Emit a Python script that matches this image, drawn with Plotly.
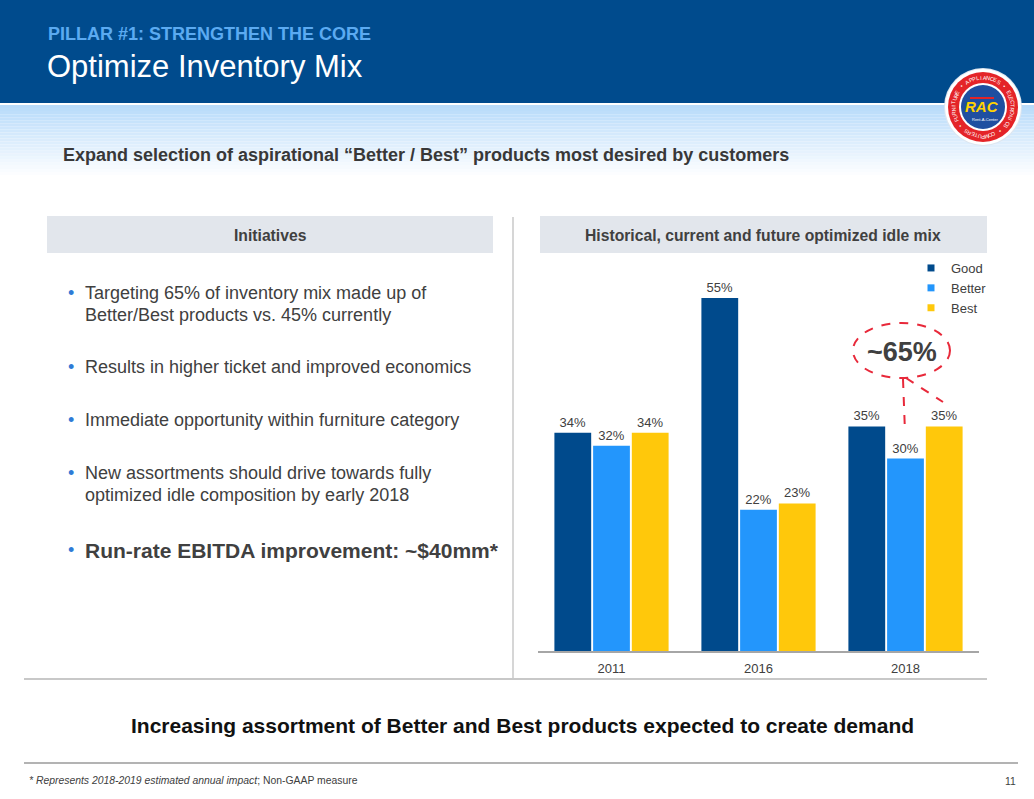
import math
import plotly.graph_objects as go

# ---------------- data ----------------
categories = ["2011", "2016", "2018"]
good = [34, 55, 35]
better = [32, 22, 30]
best = [34, 23, 35]
series_names = ["Good", "Better", "Best"]
series_colors = ["#004A8C", "#2396FC", "#FFC80B"]

W, H = 1034, 799
FONT = "Liberation Sans, Arial, Helvetica, sans-serif"
GREY_TXT = "#404040"


def px(x):
    return x / W


def py(y):
    return 1 - y / H


fig = go.Figure()

for name, vals, col in zip(series_names, [good, better, best], series_colors):
    fig.add_trace(go.Bar(
        x=categories, y=vals, name=name, marker=dict(color=col, line=dict(width=0)),
        texttemplate="%{y}%", textposition="outside", constraintext="none",
        textfont=dict(family=FONT, size=13, color=GREY_TXT),
        cliponaxis=False, showlegend=False, hoverinfo="skip",
    ))
# legend entries with small square symbols
for name, col in zip(series_names, series_colors):
    fig.add_trace(go.Scatter(
        x=[None], y=[None], mode="markers", name=name,
        marker=dict(symbol="square", size=7, color=col), showlegend=True,
    ))

shapes = []
annotations = []

# header band
shapes.append(dict(type="rect", xref="paper", yref="paper", x0=0, x1=1, y0=py(103), y1=1,
                   fillcolor="#004B8D", line=dict(width=0), layer="below"))
# gradient band under header
n = 24
top, bot = 105, 178
c0 = (184, 219, 250)
for i in range(n):
    t = i / (n - 1)
    c = tuple(int(round(c0[k] + (255 - c0[k]) * t)) for k in range(3))
    y0 = top + (bot - top) * i / n
    y1 = top + (bot - top) * (i + 1) / n
    shapes.append(dict(type="rect", xref="paper", yref="paper", x0=0, x1=1,
                       y0=py(y1), y1=py(y0), fillcolor="rgb(%d,%d,%d)" % c,
                       line=dict(width=0), layer="below"))

# logo
cx, cy = 983, 107
def circ(r, fill, lc=None, lw=0):
    return dict(type="circle", xref="paper", yref="paper",
                x0=px(cx - r), x1=px(cx + r), y0=py(cy + r), y1=py(cy - r),
                fillcolor=fill, line=dict(width=lw, color=lc or fill))
shapes.append(circ(39, "#DDE6F0"))
shapes.append(circ(38, "#FFFFFF"))
shapes.append(circ(35, "#E42428"))
shapes.append(circ(24, "#FFFFFF"))
shapes.append(circ(22, "#1F4FA0"))
shapes.append(dict(type="rect", xref="paper", yref="paper", x0=px(cx - 13), x1=px(cx + 11),
                   y0=py(cy - 8), y1=py(cy - 10), fillcolor="#E42428", line=dict(width=0)))
annotations.append(dict(x=px(cx - 1), y=py(cy), xref="paper", yref="paper", text="<b><i>RAC</i></b>",
                        showarrow=False, font=dict(family=FONT, size=15, color="#FFD200"),
                        xanchor="center", yanchor="middle"))
annotations.append(dict(x=px(cx + 2), y=py(cy + 12), xref="paper", yref="paper", text="Rent-A-Center",
                        showarrow=False, font=dict(family=FONT, size=4, color="#FFFFFF"),
                        xanchor="center", yanchor="middle"))
ring = "APPLIANCES \u2022 ELECTRONICS \u2022 COMPUTERS \u2022 FURNITURE \u2022 "
nring = len(ring)
off = -(len("APPLIANCES") - 1) / 2
for i, ch in enumerate(ring):
    if ch == " ":
        continue
    th = 2 * math.pi * (i + off) / nring
    r = 29.5
    x = cx + r * math.sin(th)
    y = cy - r * math.cos(th)
    annotations.append(dict(x=px(x), y=py(y), xref="paper", yref="paper", text=ch,
                            showarrow=False, textangle=math.degrees(th),
                            font=dict(family=FONT, size=5.5, color="#FFFFFF"),
                            xanchor="center", yanchor="middle"))

# panel header boxes
shapes.append(dict(type="rect", xref="paper", yref="paper", x0=px(47), x1=px(493),
                   y0=py(253), y1=py(216), fillcolor="#E2E6EC", line=dict(width=0), layer="below"))
shapes.append(dict(type="rect", xref="paper", yref="paper", x0=px(540), x1=px(987),
                   y0=py(253), y1=py(216), fillcolor="#E2E6EC", line=dict(width=0), layer="below"))
# divider lines
shapes.append(dict(type="line", xref="paper", yref="paper", x0=px(513), x1=px(513),
                   y0=py(217), y1=py(679), line=dict(color="#C8C8C8", width=1.5)))
shapes.append(dict(type="line", xref="paper", yref="paper", x0=px(24), x1=px(987),
                   y0=py(679), y1=py(679), line=dict(color="#C8C8C8", width=2)))
shapes.append(dict(type="line", xref="paper", yref="paper", x0=px(24), x1=px(1018),
                   y0=py(763), y1=py(763), line=dict(color="#9A9A9A", width=1.5)))
# ~65% callout
red = "#E8293A"
shapes.append(dict(type="circle", xref="paper", yref="paper", x0=px(853), x1=px(950),
                   y0=py(378), y1=py(323), line=dict(color=red, width=2, dash="dash")))
shapes.append(dict(type="line", xref="paper", yref="paper", x0=px(903), x1=px(905),
                   y0=py(379), y1=py(432), line=dict(color=red, width=2, dash="dash")))
shapes.append(dict(type="line", xref="paper", yref="paper", x0=px(906), x1=px(943),
                   y0=py(378), y1=py(402), line=dict(color=red, width=2, dash="dash")))


def txt(x, y, s, size, color=GREY_TXT, xanchor="left", bold=False, italic=False):
    if bold:
        s = "<b>" + s + "</b>"
    if italic:
        s = "<i>" + s + "</i>"
    annotations.append(dict(x=px(x), y=py(y), xref="paper", yref="paper", text=s, showarrow=False,
                            font=dict(family=FONT, size=size, color=color),
                            xanchor=xanchor, yanchor="middle", align="left"))


txt(46, 34, "PILLAR #1: STRENGTHEN THE CORE", 18, color="#5BAAF1", bold=True)
txt(45, 67, "Optimize Inventory Mix", 31, color="#FFFFFF")
txt(61, 155, "Expand selection of aspirational \u201cBetter / Best\u201d products most desired by customers",
    18, color="#383838", bold=True)
txt(270, 235, "Initiatives", 15.7, xanchor="center", bold=True)
txt(763, 235, "Historical, current and future optimized idle mix", 15.7, xanchor="center", bold=True)

bullets = [
    (293, ["Targeting 65% of inventory mix made up of", "Better/Best products vs. 45% currently"], False),
    (367, ["Results in higher ticket and improved economics"], False),
    (420, ["Immediate opportunity within furniture category"], False),
    (473, ["New assortments should drive towards fully", "optimized idle composition by early 2018"], False),
    (550, ["Run-rate EBITDA improvement: ~$40mm*"], True),
]
for y, lines, b in bullets:
    txt(66, y, "\u2022", 18, color="#2E7BD6")
    for j, line in enumerate(lines):
        txt(83, y + 22 * j, line, 21 if b else 18, bold=b)

txt(902, 352, "~65%", 27, xanchor="center", bold=True)
txt(522, 725, "Increasing assortment of Better and Best products expected to create demand", 21,
    color="#111111", xanchor="center", bold=True)
annotations.append(dict(x=px(27), y=py(780), xref="paper", yref="paper",
                        text="<i>* Represents 2018-2019 estimated annual impact</i>; Non-GAAP measure",
                        showarrow=False, font=dict(family=FONT, size=10.4, color=GREY_TXT),
                        xanchor="left", yanchor="middle"))
txt(1018, 781, "11", 10.4, xanchor="right")

fig.update_layout(
    width=W, height=H, autosize=False,
    margin=dict(l=0, r=0, t=0, b=0),
    paper_bgcolor="#FFFFFF", plot_bgcolor="rgba(0,0,0,0)",
    barmode="group", bargap=0.21, bargroupgap=0.05,
    font=dict(family=FONT, color=GREY_TXT),
    xaxis=dict(domain=[px(538), px(979)], type="category", showline=True, linecolor="#A6A6A6",
               linewidth=1.5, ticks="", showgrid=False, zeroline=False, ticklabelstandoff=5,
               tickfont=dict(family=FONT, size=13, color=GREY_TXT), fixedrange=True),
    yaxis=dict(domain=[py(651), py(266)], range=[0, 60], visible=False, fixedrange=True),
    legend=dict(x=px(911), y=py(253), xanchor="left", yanchor="top", orientation="v",
                font=dict(family=FONT, size=13, color=GREY_TXT), bgcolor="rgba(0,0,0,0)",
                itemwidth=30, tracegroupgap=0),
    shapes=shapes, annotations=annotations,
    showlegend=True,
)

fig.write_html("out.html", config={"displayModeBar": False},
               post_script="document.body.style.margin='0px';")
